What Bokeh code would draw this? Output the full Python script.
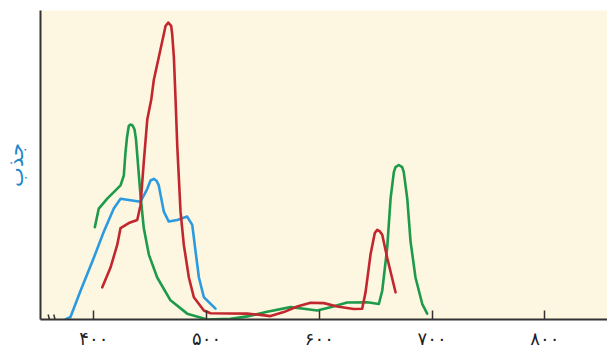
from bokeh.plotting import figure
from bokeh.models import Range1d, FixedTicker, Arrow
from bokeh.embed import file_html
from bokeh.resources import INLINE

# ---- data (wavelength nm, relative absorbance) ----
blue_wl = [374.9, 379.3, 388.2, 400.0, 408.9, 417.7, 423.7, 432.5, 441.4, 447.4,
           450.3, 453.2, 455.6, 457.6, 462.1, 466.5, 474.0, 482.8, 487.3, 490.2,
           493.2, 497.6, 507.9]
blue_abs = [0.0, 0.008, 0.093, 0.200, 0.285, 0.359, 0.391, 0.386, 0.381, 0.423,
            0.450, 0.455, 0.449, 0.434, 0.349, 0.317, 0.322, 0.333, 0.306, 0.221,
            0.136, 0.072, 0.035]

red_wl = [407.5, 414.8, 420.8, 423.7, 431.0, 438.5, 441.4, 444.3, 447.4, 450.9,
          453.2, 457.6, 462.1, 463.6, 466.0, 468.6, 469.5, 471.0, 472.5, 474.0,
          476.9, 479.8, 484.3, 488.7, 497.6, 503.5, 536.1, 547.8, 556.7, 568.5,
          580.4, 592.2, 604.0, 615.9, 630.6, 638.0, 641.0, 645.4, 649.2, 651.4,
          653.7, 655.8, 660.2, 667.6]
red_abs = [0.104, 0.168, 0.242, 0.296, 0.312, 0.322, 0.370, 0.509, 0.647, 0.711,
           0.775, 0.849, 0.924, 0.950, 0.961, 0.950, 0.924, 0.849, 0.711, 0.562,
           0.349, 0.242, 0.136, 0.072, 0.029, 0.020, 0.019, 0.015, 0.011, 0.024,
           0.042, 0.054, 0.053, 0.042, 0.034, 0.035, 0.088, 0.210, 0.280, 0.290,
           0.285, 0.274, 0.200, 0.088]

green_wl = [400.9, 404.4, 411.9, 423.7, 426.6, 428.1, 429.4, 431.0, 432.5, 434.3,
            436.1, 437.4, 439.0, 441.4, 444.3, 448.8, 456.2, 468.0, 482.8, 500.6,
            521.2, 536.1, 553.8, 574.5, 586.3, 598.1, 609.9, 624.7, 642.5, 652.8,
            655.8, 660.2, 663.2, 666.1, 667.6, 670.5, 673.5, 674.9, 678.0, 680.9,
            685.3, 691.3, 695.7]
green_abs = [0.299, 0.359, 0.391, 0.434, 0.466, 0.542, 0.589, 0.626, 0.631, 0.628,
             0.615, 0.583, 0.510, 0.402, 0.296, 0.210, 0.136, 0.062, 0.019, 0.0,
             0.002, 0.010, 0.025, 0.040, 0.035, 0.029, 0.040, 0.055, 0.056, 0.050,
             0.093, 0.232, 0.391, 0.477, 0.493, 0.500, 0.493, 0.477, 0.391, 0.253,
             0.136, 0.050, 0.019]

x_ticks = [400, 500, 600, 700, 800]
x_tick_labels = ["۴۰۰", "۵۰۰", "۶۰۰", "۷۰۰", "۸۰۰"]
y_title = "جذب"

# ---- figure ----
p = figure(width=607, height=351, output_backend="svg", toolbar_location=None,
           x_range=Range1d(352.7, 855.6), y_range=Range1d(0, 1.0),
           min_border_left=40, min_border_right=0, min_border_top=10,
           min_border_bottom=28)

p.background_fill_color = "#fdf6e1"
p.border_fill_color = "white"
p.outline_line_color = None
p.xgrid.grid_line_color = None
p.ygrid.grid_line_color = None

ax = p.xaxis[0]
ax.ticker = FixedTicker(ticks=x_ticks)
ax.major_label_overrides = {t: l for t, l in zip(x_ticks, x_tick_labels)}
ax.major_tick_in = 9
ax.major_tick_out = 0
ax.minor_tick_in = 0
ax.minor_tick_out = 0
ax.axis_line_width = 2
ax.axis_line_color = "#333333"
ax.major_tick_line_color = "#333333"
ax.major_tick_line_width = 1.5
ax.major_label_text_font = "DejaVu Sans"
ax.major_label_text_font_size = "18px"
ax.major_label_text_color = "#222222"
ax.major_label_standoff = 8

ay = p.yaxis[0]
ay.ticker = FixedTicker(ticks=[])
ay.major_tick_in = 0
ay.major_tick_out = 0
ay.minor_tick_in = 0
ay.minor_tick_out = 0
ay.major_label_text_font_size = "0px"
ay.major_label_standoff = 0
ay.axis_line_width = 2
ay.axis_line_color = "#333333"
ay.axis_label = y_title
ay.axis_label_text_font = "DejaVu Sans"
ay.axis_label_text_font_size = "21px"
ay.axis_label_text_font_style = "normal"
ay.axis_label_text_color = "#1f88cc"
ay.axis_label_standoff = 13

for wl, ab, col in [(blue_wl, blue_abs, "#2b9ade"),
                    (green_wl, green_abs, "#1d9a4a"),
                    (red_wl, red_abs, "#c1272d")]:
    p.line(wl, ab, line_color=col, line_width=2.6,
           line_join="round", line_cap="round")

for x0 in (359.5, 364.5):
    p.add_layout(Arrow(end=None, x_start=x0, y_start=0.016, x_end=x0 + 2.6,
                       y_end=-0.022, line_color="#333333", line_width=1.5))

open("out.html", "w").write(file_html(p, INLINE))
